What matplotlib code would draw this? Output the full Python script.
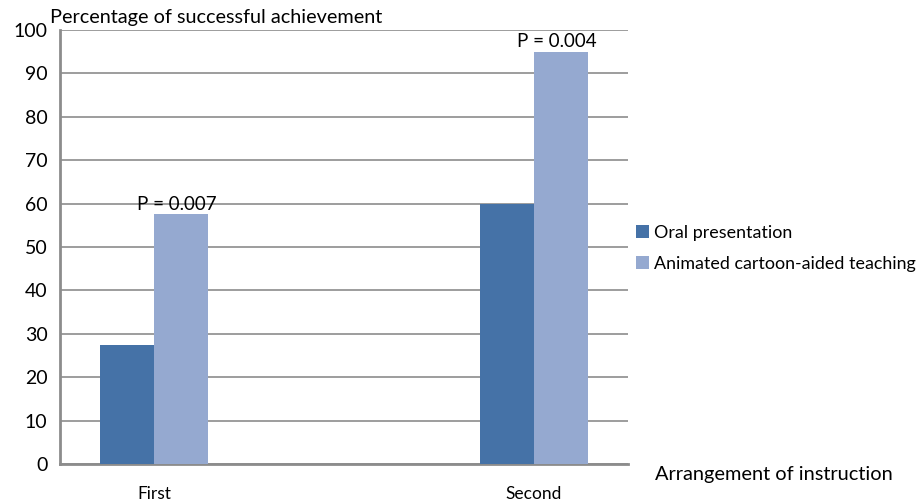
import numpy as np
import matplotlib.pyplot as plt

plt.rcParams['font.family'] = ['Lato', 'DejaVu Sans']

# dados
categorias = ['First', 'Second']
oral = [27.5, 60]
animado = [57.5, 95]
p_valores = ['P = 0.007', 'P = 0.004']

cor_oral = '#4572A7'
cor_animado = '#95A9D0'
cor_grade = '#8C8C8C'

fig = plt.figure(figsize=(9.2, 5.04), dpi=100)
ax = fig.add_axes([0.0652, 0.0794, 0.6174, 0.8611])

x = np.arange(len(categorias))
largura = 0.142

b1 = ax.bar(x - largura / 2, oral, largura, color=cor_oral, label='Oral presentation', zorder=3)
b2 = ax.bar(x + largura / 2, animado, largura, color=cor_animado,
            label='Animated cartoon-aided teaching', zorder=3)

# rótulos P acima das barras claras
for i in range(len(categorias)):
    ax.annotate(p_valores[i], (x[i] + largura / 2, animado[i]), xytext=(-3, 1),
                textcoords='offset points', ha='center', va='bottom', fontsize=13.5)

ax.set_xlim(-0.247, 1.247)
ax.set_ylim(0, 100)
ax.set_yticks(range(0, 101, 10))
ax.set_xticks(x)
ax.set_xticklabels(categorias, fontsize=12.5)
ax.tick_params(axis='x', length=0, pad=16)
ax.tick_params(axis='y', length=0, pad=9, labelsize=14)

ax.grid(axis='y', color=cor_grade, linewidth=1.2, zorder=0)
for s in ['top', 'right']:
    ax.spines[s].set_visible(False)
for s in ['left', 'bottom']:
    ax.spines[s].set_color(cor_grade)
    ax.spines[s].set_linewidth(2)

fig.text(0.054, 0.965, 'Percentage of successful achievement', fontsize=14.3, va='center')
fig.text(0.712, 0.058, 'Arrangement of instruction', fontsize=14.4, va='center')

ax.legend(loc='upper left', bbox_to_anchor=(0.683, 0.568), bbox_transform=fig.transFigure,
          frameon=False, fontsize=12.9, handlelength=0.75, handleheight=0.75,
          handletextpad=0.3, labelspacing=0.85, borderaxespad=0)

plt.savefig('out.png', dpi=100)
